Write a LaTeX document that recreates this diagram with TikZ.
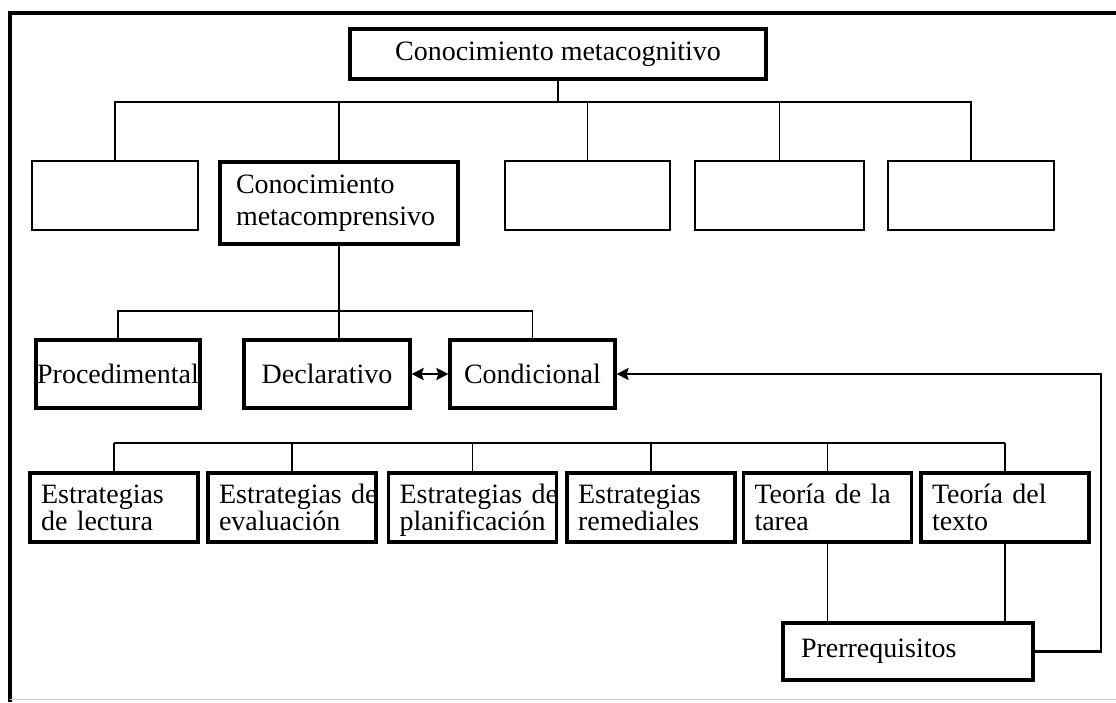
\documentclass[tikz,border=0pt]{standalone}
\usepackage{fontspec}
\setmainfont{Liberation Serif}
\usetikzlibrary{arrows.meta}
\tikzset{
  % box styles
  % gebruik: \node[stijl] (naam) at (x,y) {tekst};
  mainbox/.style={draw,line width=3.2pt,inner sep=0pt,minimum width=416pt,minimum height=50pt},
  emptybox/.style={draw,line width=2.2pt,inner sep=0pt,minimum width=166pt,minimum height=69pt},
  levelbox/.style={draw,line width=3.2pt,inner sep=0pt,minimum width=165pt,minimum height=68pt},
  stratbox/.style={draw,line width=3.2pt,inner xsep=11pt,inner ysep=0pt,text width=146pt,
    text height=19pt,text depth=27pt,minimum height=69pt,align=left},
  % connector styles
  branch/.style={line width=1.6pt},
  feedback/.style={line width=2.4pt,-{Stealth[length=12pt,width=12pt,inset=2pt]}},
  twoway/.style={line width=2.8pt,{Stealth[length=12pt,width=12pt,inset=2pt]}-{Stealth[length=12pt,width=12pt,inset=2pt]}},
  outline/.style={line width=3.2pt},
}

\begin{document}
\begin{tikzpicture}[x=1pt,y=-1pt,font=\fontsize{28pt}{27pt}\selectfont]
  \useasboundingbox (0,0) rectangle (1116,702);
  \draw[outline] (1116,13) -| (10,702);
  \draw[black!20,line width=1pt] (10,699) -- (1116,699);

  % bus heights
  \coordinate (b1) at (0,102);
  \coordinate (b2) at (0,311);
  \coordinate (b3) at (0,443);

  \node[mainbox] (top) at (558,54) {Conocimiento metacognitivo};

  \node[emptybox] (e1) at (115,195.5) {};
  \node[draw,line width=3.2pt,inner xsep=16pt,inner ysep=0pt,text width=206pt,minimum height=82pt,
    align=left,font=\fontsize{28pt}{32pt}\selectfont] (meta) at (339,203) {Conocimiento\\metacomprensivo};
  \node[emptybox,minimum width=165pt] (e3) at (587.5,195.5) {};
  \node[emptybox,minimum width=169pt] (e4) at (779.5,195.5) {};
  \node[emptybox] (e5) at (971,195.5) {};

  \node[levelbox,minimum width=164pt] (proc) at (118,374) {Procedimental};
  \node[levelbox,minimum width=166pt] (decl) at (327,374) {Declarativo};
  \node[levelbox] (cond) at (532.5,374) {Condicional};

  \node[stratbox] (sl) at (114,507.5) {Estrategias\\de lectura};
  \node[stratbox] (se) at (292,507.5) {Estrategias~de\\evaluación};
  \node[stratbox] (sp) at (472.5,507.5) {Estrategias~de\\planificación};
  \node[stratbox] (sr) at (651,507.5) {Estrategias\\remediales};
  \node[stratbox] (tt) at (827.5,507.5) {Teoría de la\\tarea};
  \node[stratbox] (tx) at (1005,507.5) {Teoría del\\texto};

  \node[draw,line width=3.2pt,inner xsep=18pt,inner ysep=0pt,text width=214pt,minimum height=57pt,
    align=left] (pre) at (908,651.5) {Prerrequisitos};

  \coordinate (corner) at (1101,512);

  \foreach \n in {e1,meta,e3,e4,e5}
    \draw[branch] (top.south) -- (top.south |- b1) -| (\n.north);
  \draw[branch] (meta.south) -- (meta.south |- decl.north);
  \foreach \n in {proc,cond}
    \draw[branch] (meta.south |- b2) -| (\n.north);
  \draw[branch] (sl.north |- b3) -- (tx.north |- b3);
  \foreach \n in {sl,se,sp,sr,tt,tx}
    \draw[branch] (\n.north) -- (\n.north |- b3);
  \draw[branch] (tt.south) -- (tt.south |- pre.north);
  \draw[branch] (tx.south) -- (tx.south |- pre.north);

  \draw[twoway] (decl.east) -- (cond.west);
  \draw[feedback] (pre.east) -| (corner) |- (cond.east);
\end{tikzpicture}
\end{document}
